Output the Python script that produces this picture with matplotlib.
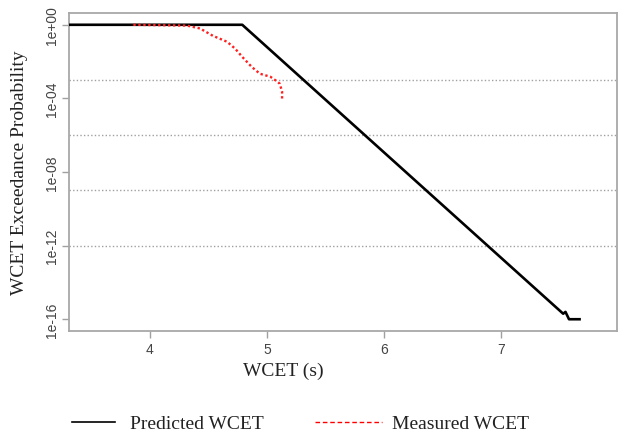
import matplotlib
matplotlib.use("Agg")
import matplotlib.pyplot as plt
from matplotlib.lines import Line2D

# predicted WCET exceedance curve (black)
pred_x = [3.31, 4.79, 7.53, 7.55, 7.58, 7.67]
pred_p = [1e0, 1e0, 2.0e-16, 2.5e-16, 1.0e-16, 1.0e-16]

# measured WCET exceedance curve (red, dotted)
meas_x = [3.86, 4.32, 4.43, 4.54, 4.66, 4.73, 4.79, 4.87, 4.94, 5.03, 5.08, 5.11, 5.13, 5.13]
meas_p = [1.0, 0.9, 0.63, 0.25, 0.12, 0.05, 0.018, 5.2e-3, 2.2e-3, 1.5e-3, 9e-4, 6.3e-4, 2.3e-4, 8e-5]

xticks = [4, 5, 6, 7]
yticks = [1e0, 1e-4, 1e-8, 1e-12, 1e-16]
ytick_labels = ["1e+00", "1e-04", "1e-08", "1e-12", "1e-16"]
grid_levels = [1e-3, 1e-6, 1e-9, 1e-12]
legend_labels = ["Predicted WCET", "Measured WCET"]

fig = plt.figure(figsize=(6.21, 4.39), dpi=100)
ax = fig.add_axes([0.111, 0.2437, 0.8826, 0.7244])

for g in grid_levels:
    ax.axhline(g, color="#a0a0a0", lw=1.0, linestyle=(0, (1, 1.6)), zorder=1)

ax.plot(pred_x, pred_p, color="black", lw=1.9, zorder=3)
ax.plot(meas_x, meas_p, color="#ff2020", lw=1.7, linestyle=(0, (1, 1.1)),
        dash_capstyle="butt", zorder=4)

ax.set_yscale("log")
ax.set_xlim(3.31, 7.99)
ax.set_ylim(10 ** -16.64, 10 ** 0.64)
ax.minorticks_off()

ax.set_xticks(xticks)
ax.set_xticklabels([str(t) for t in xticks])
ax.set_yticks(yticks)
ax.set_yticklabels(ytick_labels, rotation=90, va="center")

for s in ax.spines.values():
    s.set_color("#a8a8a8")
    s.set_linewidth(1.3)
ax.tick_params(colors="#a0a0a0", labelcolor="#444444", length=5, width=1.0,
               labelsize=10)
ax.tick_params(axis="y", pad=2)
ax.tick_params(axis="x", pad=3)
for lab in ax.get_xticklabels() + ax.get_yticklabels():
    lab.set_family("Liberation Sans")

ax.set_xlabel("WCET (s)", family="Liberation Serif", fontsize=14, color="#222222")
ax.set_ylabel("WCET Exceedance Probability", family="Liberation Serif",
              fontsize=14, color="#222222")
ax.xaxis.set_label_coords(0.392, -0.095)
ax.yaxis.set_label_coords(-0.075, 0.5)

# legend below the plot, drawn by hand (the two keys have different lengths)
fig.add_artist(Line2D([0.116, 0.185], [0.0364, 0.0364], color="black", lw=1.2,
                      transform=fig.transFigure))
fig.text(0.209, 0.0228, legend_labels[0], family="Liberation Serif", fontsize=14,
         color="#222222", va="baseline")
fig.add_artist(Line2D([0.507, 0.615], [0.0364, 0.0364], color="red", lw=1.0,
                      linestyle=(0, (3.3, 2.0)), transform=fig.transFigure))
fig.text(0.631, 0.0228, legend_labels[1], family="Liberation Serif", fontsize=14,
         color="#222222", va="baseline")

fig.savefig("out.png", dpi=100)
